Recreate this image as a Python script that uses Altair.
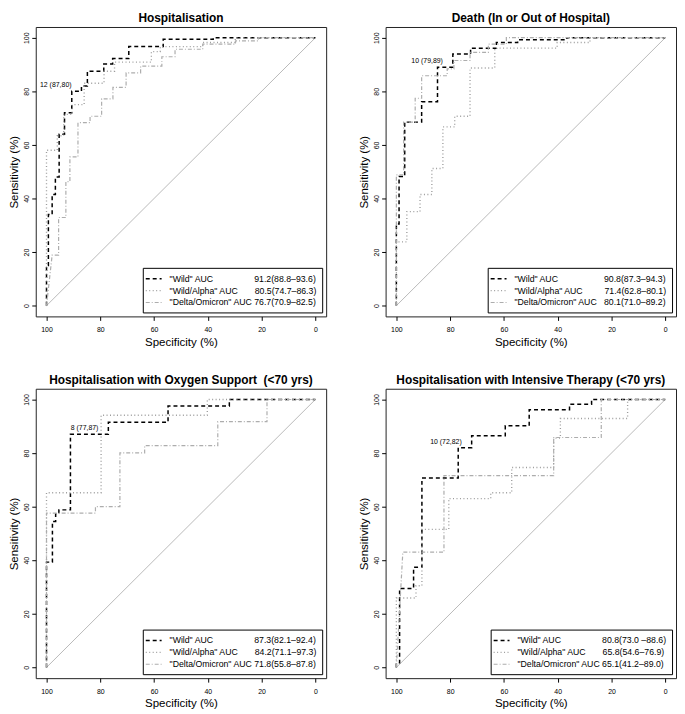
import altair as alt
import pandas as pd

FONT = "Liberation Sans"

SERIES = ['"Wild" AUC', '"Wild/Alpha" AUC', '"Delta/Omicron" AUC']
COLORS = ["#000000", "#9c9c9c", "#adadad"]
DASHES = [[4, 3], [1, 2.5], [4, 2, 1, 2]]
WIDTHS = [1.5, 1.2, 1.2]

TITLES = [
    "Hospitalisation",
    "Death (In or Out of Hospital)",
    "Hospitalisation with Oxygen Support\u00a0\u00a0(<70 yrs)",
    "Hospitalisation with Intensive Therapy (<70 yrs)",
]

AUC_TEXT = [
    ["91.2(88.8\u201393.6)", "80.5(74.7\u201386.3)", "76.7(70.9\u201382.5)"],
    ["90.8(87.3\u201394.3)", "71.4(62.8\u201380.1)", "80.1(71.0\u201389.2)"],
    ["87.3(82.1\u201392.4)", "84.2(71.1\u201397.3)", "71.8(55.8\u201387.8)"],
    ["80.8(73.0 \u201388.6)", "65.8(54.6\u201376.9)", "65.1(41.2\u201389.0)"],
]
GAP = [[17, 7, 1], [19, 9, 3], [17, 7, 1], [17, 7, 1]]

THRESH_LABEL = ["12 (87,80)", "10 (79,89)", "8 (77,87)", "10 (72,82)"]
THRESH_SPEC = [87, 79, 77, 72]
THRESH_SENS = [80, 89, 87, 82]

# Step curves: at each specificity the curve rises to the given sensitivity
P1_WILD_SPEC = [100, 99.3, 97.9, 96.7, 95.3, 93.3, 90.6, 87, 84.8, 78.7, 75.4, 69.4, 56.6, 38]
P1_WILD_SENS = [15, 34, 41.5, 48, 64, 72, 80, 82, 87.5, 90.2, 92.2, 96.7, 99.4, 100]
P1_ALPHA_SPEC = [100, 96, 93.6, 90.5, 86, 78.6, 74.7, 61, 57.7, 41.9, 29.8]
P1_ALPHA_SENS = [58, 63.4, 71.4, 75, 83, 87.5, 90.9, 94.8, 96.7, 98.2, 100]
P1_DELTA_SPEC = [97.9, 95.5, 92.8, 91.3, 88.3, 83.8, 79.5, 75.3, 70.4, 65, 57.1, 52.2, 41.9, 29.7, 21.2]
P1_DELTA_SENS = [18.9, 32.9, 46.3, 55.5, 68.3, 70.7, 77.2, 81.5, 86.9, 89.4, 92.9, 95.7, 97.6, 98.8, 100]

P2_WILD_SPEC = [100, 99, 96.9, 90.6, 84.7, 79, 72.4, 62.8, 54.9, 36.6]
P2_WILD_SENS = [30.5, 48.2, 68.5, 76.1, 89, 93.9, 96.1, 98.2, 99.2, 100]
P2_ALPHA_SPEC = [100, 96.1, 91.2, 86.8, 82.7, 78.3, 72.6, 63.4, 40.2, 28]
P2_ALPHA_SENS = [23.8, 35.1, 41.5, 51.2, 66.7, 70.7, 88.7, 96.1, 98.2, 100]
P2_DELTA_SPEC = [100, 97.3, 93, 90.6, 81.1, 78.6, 72.6, 65.8, 59.1]
P2_DELTA_SENS = [48.8, 68.5, 77.4, 85.8, 88.4, 91.5, 94.5, 97.6, 100]

P3_WILD_SPEC = [100, 97.8, 96.6, 95.4, 91.1, 77, 54.8, 32]
P3_WILD_SENS = [39.3, 54.5, 57.3, 58.8, 87, 91.5, 97.6, 100]
P3_ALPHA_SPEC = [100, 79.7, 40.2]
P3_ALPHA_SENS = [65.2, 94.1, 100]
P3_DELTA_SPEC = [100, 81.8, 72.7, 63.5, 36.3, 18]
P3_DELTA_SENS = [57.6, 60, 80.1, 82.8, 91.7, 100]

P4_WILD_SPEC = [100, 98.8, 93.6, 90.5, 77, 72, 59.5, 50.6, 35.6, 27.4]
P4_WILD_SENS = [1.7, 29.5, 37.4, 70.7, 82, 86.5, 90.2, 96.2, 98.2, 100]
P4_ALPHA_SPEC = [100, 92.7, 90.5, 80.5, 64.9, 57.1, 41.5, 39, 14]
P4_ALPHA_SENS = [25.9, 30.5, 51.5, 63, 65.2, 74.6, 85.6, 92.9, 100]
P4_DELTA_SPEC = [97.6, 82.3, 41.5, 23.8]
P4_DELTA_SENS = [43, 71.6, 85.8, 100]

CURVES = [
    [(P1_WILD_SPEC, P1_WILD_SENS), (P1_ALPHA_SPEC, P1_ALPHA_SENS), (P1_DELTA_SPEC, P1_DELTA_SENS)],
    [(P2_WILD_SPEC, P2_WILD_SENS), (P2_ALPHA_SPEC, P2_ALPHA_SENS), (P2_DELTA_SPEC, P2_DELTA_SENS)],
    [(P3_WILD_SPEC, P3_WILD_SENS), (P3_ALPHA_SPEC, P3_ALPHA_SENS), (P3_DELTA_SPEC, P3_DELTA_SENS)],
    [(P4_WILD_SPEC, P4_WILD_SENS), (P4_ALPHA_SPEC, P4_ALPHA_SENS), (P4_DELTA_SPEC, P4_DELTA_SENS)],
]

TICKS = [0, 20, 40, 60, 80, 100]
W, H = 293, 292


def staircase(spec, sens):
    pts = [(100.0, 0.0)]
    for i, (s, h) in enumerate(zip(spec, sens)):
        pts.append((s, h))
        nxt = spec[i + 1] if i + 1 < len(spec) else 0.0
        pts.append((nxt, h))
    return pts


def enc_x():
    return alt.X("spec:Q",
                 scale=alt.Scale(domain=[-4, 104], reverse=True, nice=False, zero=False),
                 axis=alt.Axis(values=TICKS, format="d", title="Specificity (%)",
                               tickSize=4, labelPadding=5, titlePadding=4))


def enc_y():
    return alt.Y("sens:Q",
                 scale=alt.Scale(domain=[-4, 104], nice=False, zero=False),
                 axis=alt.Axis(values=TICKS, format="d", title="Sensitivity (%)",
                               tickSize=4, labelPadding=2, labelAngle=270,
                               labelAlign="center", labelBaseline="bottom",
                               titlePadding=3))


def panel(k):
    rows = []
    labels = []
    for j, name in enumerate(SERIES):
        lab = name + "\u00a0" * GAP[k][j] + AUC_TEXT[k][j]
        labels.append(lab)
        spec, sens = CURVES[k][j]
        for o, (x, y) in enumerate(staircase(spec, sens)):
            rows.append({"spec": x, "sens": y, "series": lab, "order": o})
    df = pd.DataFrame(rows)

    legend = alt.Legend(orient="bottom-right", offset=4, title=None,
                        strokeColor="#000000", fillColor="#ffffff", padding=5,
                        symbolType="M-1.6,0H1.6", symbolSize=100, labelFontSize=8.8,
                        labelFont=FONT, labelColor="#000000", labelLimit=400,
                        rowPadding=1, labelOffset=10)

    diag = alt.Chart(pd.DataFrame({"spec": [100, 0], "sens": [0, 100]})).mark_line(
        color="#a8a8a8", strokeWidth=0.8).encode(x=enc_x(), y=enc_y())

    curves = alt.Chart(df).mark_line(interpolate="linear").encode(
        x=enc_x(), y=enc_y(), order="order:Q",
        color=alt.Color("series:N", scale=alt.Scale(domain=labels, range=COLORS), legend=legend),
        strokeDash=alt.StrokeDash("series:N", scale=alt.Scale(domain=labels, range=DASHES), legend=legend),
        strokeWidth=alt.StrokeWidth("series:N", scale=alt.Scale(domain=labels, range=WIDTHS), legend=legend),
    )

    txt = alt.Chart(pd.DataFrame({"spec": [THRESH_SPEC[k]], "sens": [THRESH_SENS[k]],
                                  "label": [THRESH_LABEL[k]]})).mark_text(
        align="right", baseline="middle", dx=-10, dy=-6, fontSize=7, font=FONT,
        color="#000000").encode(x=enc_x(), y=enc_y(), text="label:N")

    return alt.layer(diag, curves, txt).properties(
        width=W, height=H,
        title=alt.TitleParams(TITLES[k], fontSize=12, fontWeight="bold", font=FONT,
                              offset=2, anchor="middle", color="#000000"),
    )


res = dict(color="independent", strokeDash="independent", strokeWidth="independent")
row1 = alt.hconcat(panel(0), panel(1), spacing=31).resolve_scale(**res).resolve_legend(**res)
row2 = alt.hconcat(panel(2), panel(3), spacing=31).resolve_scale(**res).resolve_legend(**res)

chart = alt.vconcat(row1, row2, spacing=24).resolve_scale(**res).resolve_legend(**res).properties(
    padding=0, background="#ffffff"
).configure_view(
    stroke="#222222", strokeWidth=1
).configure_axis(
    grid=False, domain=False, labelFont=FONT, labelFontSize=7, labelColor="#000000",
    tickColor="#000000", titleFont=FONT, titleFontSize=11.6, titleFontWeight="normal",
    titleColor="#000000"
)

chart.save("out.html", embed_options={"renderer": "svg", "actions": False})
